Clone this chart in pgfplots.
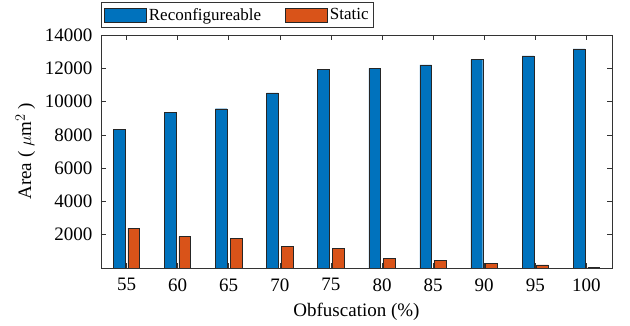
\documentclass[border=0pt]{standalone}
\usepackage{pgfplots}
\pgfplotsset{compat=1.18}
\usepackage{fontspec}
\setmainfont{Liberation Serif}
\definecolor{mblue}{rgb}{0,0.447,0.741}
\definecolor{morange}{rgb}{0.85,0.325,0.098}
\begin{document}
\begin{tikzpicture}
\useasboundingbox (-101pt,-58pt) rectangle (529pt,268pt);
\begin{axis}[
  ybar, bar width=0.23,
  scale only axis,
  width=511pt, height=233pt,
  xmin=0.5, xmax=10.5,
  ymin=0, ymax=14000,
  xtick={1,...,10},
  xticklabels={55,60,65,70,75,80,85,90,95,100},
  ytick={2000,4000,6000,8000,10000,12000,14000},
  scaled y ticks=false,
  /pgf/number format/assume math mode=true,
  yticklabel={\pgfmathprintnumber[fixed,1000 sep={}]{\tick}},
  tick align=inside,
  major tick length=5pt,
  tick style={black!80, line width=0.6pt},
  axis line style={black!80, line width=0.6pt},
  ticklabel style={font=\fontsize{19}{22}\selectfont},
  xticklabel style={yshift=-7pt},
  yticklabel style={xshift=-5pt},
  label style={font=\fontsize{19}{22}\selectfont},
  xlabel={Obfuscation (\%)},
  ylabel={Area ( $\mu\mathrm{m}^2$ )},
  xlabel style={yshift=-5pt},
  ylabel style={yshift=3pt},
  legend style={at={(0,1.1416)}, anchor=north west, legend columns=2,
    font=\fontsize{17}{20}\selectfont, draw=black!80, line width=0.6pt,
    inner xsep=3pt, inner ysep=4pt, row sep=0pt,
    /tikz/every even column/.append style={column sep=22pt}},
]
\addplot[fill=mblue, draw=black!85, bar shift=-0.145,
  legend image code/.code={\draw[fill=mblue, draw=black!85, line width=0.6pt] (0pt,-7pt) rectangle (42pt,7pt);}] coordinates {
 (1,8320) (2,9360) (3,9570) (4,10520) (5,11950) (6,11990) (7,12200) (8,12520) (9,12740) (10,13160)};
\addplot[fill=morange, draw=black!85, bar shift=0.14,
  legend image code/.code={\draw[fill=morange, draw=black!85, line width=0.6pt] (0pt,-7pt) rectangle (42pt,7pt);}] coordinates {
 (1,2400) (2,1890) (3,1780) (4,1300) (5,1200) (6,560) (7,460) (8,300) (9,190) (10,30)};
\legend{Reconfigureable, Static\hspace{12pt}}
\end{axis}
\end{tikzpicture}
\end{document}
